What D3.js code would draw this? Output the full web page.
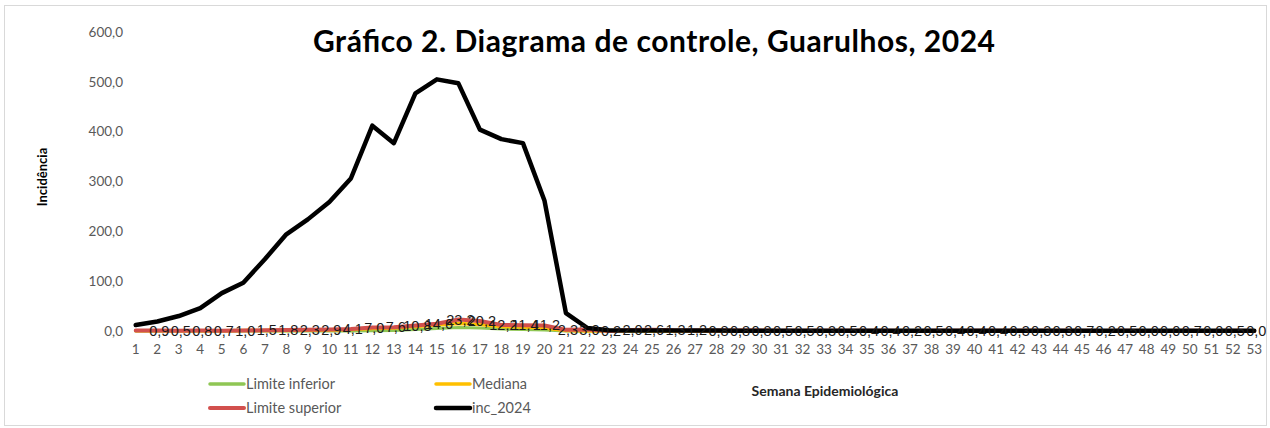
<!DOCTYPE html>
<html>
<head>
<meta charset="utf-8">
<script src="https://cdn.jsdelivr.net/npm/d3@7"></script>
<style>
  body { margin: 0; background: #fff; }
  svg text { font-family: Lato, "Open Sans", sans-serif; }
</style>
</head>
<body>
<div id="chart"></div>
<script>
// semanas epidemiologicas 1..53
const semanas = d3.range(1, 54)
const yTicks = [0, 100, 200, 300, 400, 500, 600]

const inc2024 = [12, 19, 30, 46, 76, 97, 144, 194, 224, 259, 306, 412, 377, 477, 505, 497, 404, 385, 377, 262,
  36, 6, 1.5, 1, 1, 0.8, 0.8, 0.8, 0.6, 0.6, 0.5, 0.5, 0.5, 0.5, 0.5, 0.5, 0.5, 0.5, 0.5, 0.5,
  0.5, 0.5, 0.5, 0.5, 0.5, 0.5, 0.5, 0.5, 0.5, 0.5, 0.5, 0.5, 0.5]

const limSup = [1.0, 0.9, 0.5, 0.8, 0.7, 1.0, 1.5, 1.8, 2.3, 2.9, 4.1, 7.0, 7.6, 10.8, 14.6, 23.2, 20.2, 12.2, 11.4, 11.2,
  2.3, 3.0, 0.2, 2.0, 2.6, 1.3, 1.2, 0.8, 0.8, 0.8, 0.5, 0.5, 0.3, 0.5, 0.4, 0.4, 0.2, 0.5, 0.4, 0.4,
  0.4, 0.3, 0.3, 0.3, 0.7, 0.2, 0.5, 0.0, 0.0, 0.7, 0.0, 0.5, 0.0]

const mediana = [0.5, 0.4, 0.5, 0.5, 0.6, 0.8, 1.0, 1.2, 1.5, 2.0, 3.0, 5.0, 6.0, 9.0, 12.0, 15.0, 13.0, 9.0, 8.0, 6.0,
  1.0, 0.2, 0.3, 0.3, 0.2, 0.2, 0.1, 0.1, 0.1, 0.1, 0.1, 0.1, 0.1, 0.1, 0.1, 0.1, 0.1, 0.1, 0.1, 0.1,
  0.1, 0.1, 0.1, 0.1, 0.1, 0.1, 0, 0, 0, 0.1, 0, 0, 0]

const limInf = [0, 0, 0, 0, 0, 0, 0, 0, 0, 0, 0, 0.5, 1.0, 3.0, 5.0, 7.0, 6.0, 4.0, 3.0, 2.0,
  0, 0, 0, 0, 0, 0, 0, 0, 0, 0, 0, 0, 0, 0, 0, 0, 0, 0, 0, 0,
  0, 0, 0, 0, 0, 0, 0, 0, 0, 0, 0, 0, 0]

const series = [
  { name: 'Limite inferior', values: limInf, color: '#8fc654', width: 3 },
  { name: 'Mediana', values: mediana, color: '#ffc000', width: 3.5 },
  { name: 'Limite superior', values: limSup, color: '#d2504d', width: 4 },
  { name: 'inc_2024', values: inc2024, color: '#000000', width: 4.5 }
]

const W = 1270, H = 428

const svg = d3.select('#chart').append('svg')
  .attr('width', W)
  .attr('height', H)

svg.append('rect')
  .attr('x', 4.5).attr('y', 5.5)
  .attr('width', 1262).attr('height', 420)
  .attr('fill', '#fff')
  .attr('stroke', '#d9d9d9')

const x = d3.scaleBand().domain(semanas).range([125, 1265]).padding(0)
const y = d3.scaleLinear().domain([0, 600]).range([331, 32])
const cx = d => x(d) + x.bandwidth() / 2

// eixo y
const yAxis = svg.append('g')
  .attr('transform', 'translate(125,0)')
  .call(d3.axisLeft(y).tickValues(yTicks).tickSize(0).tickPadding(2)
    .tickFormat(d => d3.format('.1f')(d).replace('.', ',')))
yAxis.select('.domain').remove()
yAxis.selectAll('text')
  .attr('fill', '#595959')
  .style('font-size', '13.5px')
  .style('font-family', 'Lato, sans-serif')

// eixo x
const xAxis = svg.append('g')
  .attr('transform', 'translate(0,341)')
  .call(d3.axisBottom(x).tickSize(0).tickPadding(3))
xAxis.select('.domain').remove()
xAxis.selectAll('text')
  .attr('fill', '#595959')
  .style('font-size', '13.5px')
  .style('font-family', 'Lato, sans-serif')

const line = vals => d3.line()
  .x((d, i) => cx(semanas[i]))
  .y(d => y(d))(vals)

svg.selectAll('path.serie')
  .data(series)
  .enter()
  .append('path')
  .attr('class', 'serie')
  .attr('d', d => line(d.values))
  .attr('fill', 'none')
  .attr('stroke', d => d.color)
  .attr('stroke-width', d => d.width)
  .attr('stroke-linejoin', 'round')
  .attr('stroke-linecap', 'round')

// rotulos de dados (limite superior) - a semana 1 nao aparece no original
svg.append('g')
  .selectAll('text')
  .data(limSup.map((v, i) => ({ v, sem: semanas[i] })).slice(1))
  .enter()
  .append('text')
  .attr('x', d => cx(d.sem) + 2)
  .attr('y', d => y(d.v))
  .attr('dy', '0.35em')
  .attr('text-anchor', 'middle')
  .attr('fill', '#1a1a1a')
  .style('font-family', '"Liberation Sans", Arial, sans-serif')
  .style('font-size', '14.5px')
  .text(d => d3.format('.1f')(d.v).replace('.', ','))

// titulo
svg.append('text')
  .attr('x', 654)
  .attr('y', 52)
  .attr('text-anchor', 'middle')
  .attr('textLength', 682)
  .attr('lengthAdjust', 'spacing')
  .style('font-size', '30px')
  .style('font-weight', 'bold')
  .attr('fill', '#000')
  .text('Gráfico 2. Diagrama de controle, Guarulhos, 2024')

// titulos dos eixos
svg.append('text')
  .attr('transform', 'translate(47,177) rotate(-90)')
  .attr('text-anchor', 'middle')
  .style('font-size', '13px')
  .style('font-weight', 'bold')
  .attr('fill', '#000')
  .text('Incidência')

svg.append('text')
  .attr('x', 825)
  .attr('y', 396)
  .attr('text-anchor', 'middle')
  .style('font-size', '14px')
  .style('font-weight', 'bold')
  .attr('fill', '#262626')
  .text('Semana Epidemiológica')

// legenda
const legPos = [[210, 384], [436, 384], [210, 408], [436, 408]]
const leg = svg.append('g')
  .selectAll('g')
  .data(series)
  .enter()
  .append('g')
  .attr('transform', (d, i) => 'translate(' + legPos[i][0] + ',' + legPos[i][1] + ')')

leg.append('line')
  .attr('x1', 0).attr('x2', 34)
  .attr('stroke', d => d.color)
  .attr('stroke-width', d => Math.max(d.width, 3.5))
  .attr('stroke-linecap', 'round')

leg.append('text')
  .attr('x', 36)
  .attr('dy', '0.35em')
  .attr('fill', '#595959')
  .style('font-size', '14.5px')
  .text(d => d.name)
</script>
</body>
</html>
